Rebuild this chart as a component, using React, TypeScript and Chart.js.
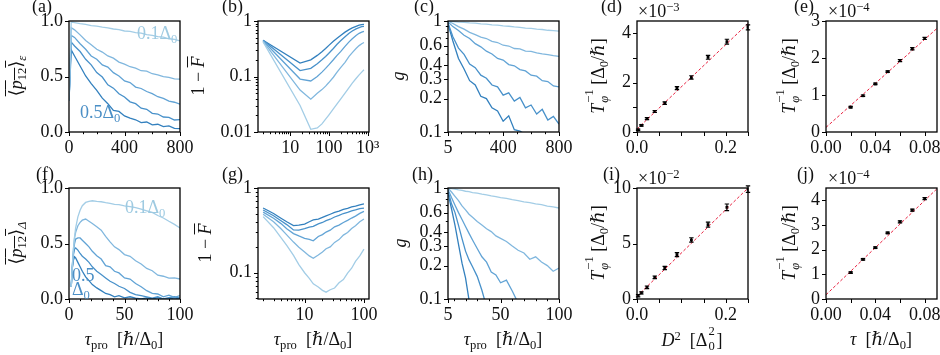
import React, { useEffect, useRef } from 'react';
import { Chart, registerables } from 'chart.js';
Chart.register(...registerables);

const FONT = '"Liberation Serif", "DejaVu Serif", "DejaVu Sans", serif';
const FS = 18;
Chart.defaults.font.family = FONT;
Chart.defaults.font.size = FS;
const BLUES = ['#a3cde6', '#80b7de', '#61a3d5', '#4891ca', '#3380be'];
const RED = '#e8203f';

// ---------- (a) ----------
const aX = [0, 16, 40, 80, 120, 160, 200, 240, 280, 320, 360, 400, 440, 480, 520, 560, 600, 640, 680, 720, 760, 800];
const aY1 = [0.28, 0.99, 0.985, 0.976, 0.969, 0.958, 0.953, 0.944, 0.939, 0.928, 0.922, 0.91, 0.906, 0.895, 0.89, 0.878, 0.871, 0.86, 0.854, 0.84, 0.834, 0.82];
const aY2 = [0.28, 0.94, 0.92, 0.875, 0.825, 0.785, 0.745, 0.72, 0.685, 0.665, 0.63, 0.612, 0.588, 0.575, 0.552, 0.548, 0.525, 0.515, 0.498, 0.492, 0.478, 0.476];
const aY3 = [0.28, 0.87, 0.852, 0.795, 0.745, 0.685, 0.655, 0.605, 0.585, 0.535, 0.505, 0.46, 0.445, 0.405, 0.392, 0.365, 0.345, 0.318, 0.302, 0.278, 0.268, 0.25];
const aY4 = [0.28, 0.81, 0.775, 0.725, 0.655, 0.605, 0.535, 0.495, 0.425, 0.395, 0.345, 0.315, 0.272, 0.255, 0.215, 0.205, 0.168, 0.162, 0.135, 0.132, 0.108, 0.112];
const aY5 = [0.28, 0.74, 0.685, 0.595, 0.505, 0.435, 0.375, 0.305, 0.255, 0.195, 0.185, 0.145, 0.125, 0.11, 0.085, 0.09, 0.065, 0.07, 0.048, 0.055, 0.032, 0.03];

// ---------- (b) ----------
const bX = [2, 18, 34, 50, 66, 82, 98, 130, 162, 200, 260, 330, 400, 500, 600, 700, 800];
const bY1 = [0.45, 0.175, 0.2, 0.24, 0.28, 0.32, 0.36, 0.43, 0.49, 0.55, 0.63, 0.7, 0.75, 0.8, 0.84, 0.86, 0.87];
const bY2 = [0.45, 0.128, 0.14, 0.17, 0.2, 0.23, 0.26, 0.32, 0.38, 0.44, 0.52, 0.6, 0.66, 0.72, 0.76, 0.79, 0.8];
const bY3 = [0.44, 0.09, 0.083, 0.1, 0.12, 0.14, 0.16, 0.2, 0.24, 0.28, 0.35, 0.42, 0.48, 0.55, 0.6, 0.63, 0.65];
const bY4 = [0.43, 0.057, 0.039, 0.05, 0.058, 0.067, 0.077, 0.097, 0.12, 0.145, 0.18, 0.23, 0.27, 0.32, 0.36, 0.39, 0.41];
const bY5 = [0.42, 0.03, 0.0112, 0.0118, 0.014, 0.017, 0.02, 0.026, 0.032, 0.039, 0.05, 0.063, 0.076, 0.092, 0.107, 0.12, 0.132];

// ---------- (c) ----------
const cX = [5, 40, 80, 120, 160, 200, 240, 280, 320, 360, 400, 440, 480, 520, 560, 600, 640, 680, 720, 760, 800];
const cY1 = [1, 0.99, 0.978, 0.972, 0.96, 0.955, 0.944, 0.936, 0.924, 0.917, 0.905, 0.897, 0.884, 0.877, 0.864, 0.857, 0.844, 0.838, 0.825, 0.82, 0.81];
const cY2 = [1, 0.95, 0.89, 0.845, 0.79, 0.755, 0.715, 0.695, 0.655, 0.64, 0.605, 0.595, 0.565, 0.562, 0.535, 0.532, 0.515, 0.505, 0.498, 0.488, 0.48];
const cY3 = [0.98, 0.89, 0.82, 0.745, 0.695, 0.625, 0.585, 0.535, 0.505, 0.46, 0.445, 0.405, 0.395, 0.365, 0.355, 0.325, 0.318, 0.29, 0.285, 0.26, 0.255];
const cY4 = [0.96, 0.72, 0.57, 0.5, 0.41, 0.38, 0.325, 0.305, 0.265, 0.255, 0.215, 0.225, 0.19, 0.205, 0.165, 0.175, 0.145, 0.16, 0.128, 0.138, 0.118];
const cY5 = [0.94, 0.66, 0.46, 0.37, 0.29, 0.265, 0.21, 0.2, 0.165, 0.155, 0.125, 0.14, 0.105, 0.102, 0.095, null, null, null, null, null, null];

// ---------- (d) ----------
const dX = [0.0025, 0.01, 0.0225, 0.04, 0.0625, 0.09, 0.1225, 0.16, 0.2025, 0.25];
const dY = [0.09, 0.27, 0.54, 0.83, 1.17, 1.78, 2.21, 3.03, 3.66, 4.24];
const dErr = [0.03, 0.03, 0.04, 0.04, 0.05, 0.06, 0.07, 0.08, 0.1, 0.1];
const dFitX = [0, 0.25];
const dFitY = [0.12, 4.4];

// ---------- (e) ----------
const eX = [0.02, 0.03, 0.04, 0.05, 0.06, 0.07, 0.08];
const eY = [0.67, 0.98, 1.3, 1.63, 1.93, 2.25, 2.53];
const eErr = [0.02, 0.02, 0.02, 0.02, 0.03, 0.03, 0.03];
const eFitX = [0, 0.09];
const eFitY = [0.125, 2.8];

// ---------- (f) ----------
const fX = [2, 3, 4, 5, 6, 8, 10, 12, 15, 18, 21, 25, 29, 33, 37, 41, 45, 50, 55, 60, 65, 70, 75, 80, 85, 90, 95, 100];
const fY1 = [0.11, 0.3, 0.45, 0.56, 0.64, 0.74, 0.8, 0.84, 0.87, 0.88, 0.885, 0.88, 0.876, 0.868, 0.862, 0.853, 0.85, 0.838, 0.832, 0.824, 0.81, 0.795, 0.78, 0.752, 0.73, 0.7, 0.672, 0.64];
const fY2 = [0.11, 0.3, 0.45, 0.55, 0.6, 0.66, 0.69, 0.71, 0.72, 0.7, 0.68, 0.65, 0.62, 0.565, 0.515, 0.47, 0.445, 0.4, 0.385, 0.345, 0.315, 0.275, 0.255, 0.215, 0.205, 0.188, 0.19, 0.18];
const fY3 = [0.11, 0.3, 0.42, 0.5, 0.54, 0.55, 0.55, 0.53, 0.5, 0.47, 0.43, 0.39, 0.36, 0.3, 0.29, 0.25, 0.235, 0.19, 0.18, 0.14, 0.11, 0.075, 0.05, 0.045, 0.02, 0.035, 0.015, 0.03];
const fY4 = [0.11, 0.28, 0.4, 0.45, 0.46, 0.44, 0.41, 0.385, 0.36, 0.33, 0.29, 0.25, 0.22, 0.19, 0.16, 0.14, 0.115, 0.095, 0.06, 0.04, 0.03, 0.02, 0.008, 0.02, 0.0, 0.012, 0.02, 0.008];
const fY5 = [0.11, 0.28, 0.35, 0.38, 0.37, 0.33, 0.29, 0.25, 0.2, 0.165, 0.13, 0.1, 0.075, 0.05, 0.04, 0.02, 0.03, 0.01, 0.02, 0.008, 0.0, 0.01, 0.0, 0.012, 0.0, 0.0, 0.01, 0.0];

// ---------- (g) ----------
const gX = [2, 3, 4, 5, 6.5, 8, 10, 12, 14, 17, 20, 23, 27, 32, 38, 45, 53, 62, 72, 85, 100];
const gY1 = [0.58, 0.5, 0.44, 0.4, 0.36, 0.365, 0.375, 0.4, 0.42, 0.43, 0.45, 0.468, 0.49, 0.515, 0.535, 0.56, 0.575, 0.6, 0.612, 0.632, 0.65];
const gY2 = [0.55, 0.47, 0.41, 0.37, 0.32, 0.318, 0.332, 0.345, 0.352, 0.378, 0.392, 0.412, 0.428, 0.455, 0.475, 0.5, 0.515, 0.538, 0.552, 0.572, 0.58];
const gY3 = [0.52, 0.44, 0.38, 0.33, 0.29, 0.272, 0.255, 0.248, 0.238, 0.268, 0.282, 0.302, 0.318, 0.348, 0.365, 0.392, 0.415, 0.442, 0.466, 0.502, 0.53];
const gY4 = [0.49, 0.4, 0.33, 0.28, 0.23, 0.2, 0.176, 0.158, 0.148, 0.162, 0.176, 0.192, 0.202, 0.228, 0.246, 0.278, 0.298, 0.332, 0.358, 0.4, 0.43];
const gY5 = [0.46, 0.34, 0.26, 0.21, 0.16, 0.125, 0.1, 0.086, 0.074, 0.068, 0.062, 0.059, 0.063, 0.066, 0.076, 0.083, 0.099, 0.113, 0.136, 0.158, 0.19];

// ---------- (h) ----------
const hX = [5, 8, 11, 14, 17, 20, 23, 26, 30, 34, 38, 42, 46, 50, 55, 60, 65, 70, 75, 80, 85, 90, 95, 100];
const hY1 = [1, 0.985, 0.976, 0.96, 0.951, 0.935, 0.926, 0.91, 0.899, 0.879, 0.868, 0.849, 0.838, 0.82, 0.806, 0.784, 0.771, 0.75, 0.738, 0.718, 0.707, 0.686, 0.676, 0.66];
const hY2 = [1, 0.92, 0.84, 0.77, 0.69, 0.635, 0.58, 0.545, 0.5, 0.465, 0.43, 0.405, 0.37, 0.352, 0.33, 0.3, 0.275, 0.26, 0.228, 0.24, 0.215, 0.2, 0.178, 0.19];
const hY3 = [0.97, 0.82, 0.7, 0.6, 0.52, 0.45, 0.39, 0.34, 0.285, 0.24, 0.215, 0.175, 0.165, 0.14, 0.148, 0.118, 0.092, null, null, null, null, null, null, null];
const hY4 = [0.95, 0.72, 0.6, 0.46, 0.35, 0.27, 0.225, 0.195, 0.16, 0.12, 0.085, null, null, null, null, null, null, null, null, null, null, null, null, null];
const hY5 = [0.9, 0.65, 0.46, 0.31, 0.21, 0.155, 0.098, 0.06, null, null, null, null, null, null, null, null, null, null, null, null, null, null, null, null];

// ---------- (i) ----------
const iX = [0.0025, 0.01, 0.0225, 0.04, 0.0625, 0.09, 0.1225, 0.16, 0.2025, 0.25];
const iY = [0.3, 0.55, 1.05, 1.95, 2.79, 4.0, 5.32, 6.7, 8.26, 9.9];
const iErr = [0.1, 0.1, 0.12, 0.12, 0.15, 0.18, 0.2, 0.22, 0.3, 0.3];
const iFitX = [0, 0.25];
const iFitY = [0.24, 10.0];

// ---------- (j) ----------
const jX = [0.02, 0.03, 0.04, 0.05, 0.06, 0.07, 0.08];
const jY = [1.07, 1.61, 2.08, 2.68, 3.13, 3.6, 4.07];
const jErr = [0.03, 0.03, 0.03, 0.03, 0.04, 0.04, 0.04];
const jFitX = [0, 0.09];
const jFitY = [0.17, 4.47];

// ---------- tick sets ----------
const logMinor = (decades: number[]) => decades.flatMap(d => [2, 3, 4, 5, 6, 7, 8, 9].map(k => k * d));

type Axis = { type: 'linear' | 'logarithmic'; min: number; max: number; major: number[]; labels: string[]; minor: number[] };
type Line = { x: number[]; y: (number | null)[]; color: string };
type ErrSet = { x: number[]; y: number[]; err: number[]; fitX: number[]; fitY: number[] };
type Panel = { id: string; left: number; top: number; x: Axis; y: Axis; lines?: Line[]; errs?: ErrSet };

const W = 111, H = 111;
const L = 75, T = 14, R = 26, B = 34;
const ROW1 = 21, ROW2 = 188;
const COLS = [69, 258, 448, 637, 826];

const yLin01: Axis = { type: 'linear', min: 0, max: 1, major: [0, 0.5, 1], labels: ['0.0', '0.5', '1.0'], minor: [] };
const yLogG: Axis = { type: 'logarithmic', min: 0.1, max: 1, major: [0.1, 0.2, 0.3, 0.4, 0.6, 1], labels: ['0.1', '0.2', '0.3', '0.4', '0.6', '1'], minor: [0.5, 0.7, 0.8, 0.9] };

const panels: Panel[] = [
  {
    id: 'a', left: COLS[0], top: ROW1,
    x: { type: 'linear', min: 0, max: 800, major: [0, 400, 800], labels: ['0', '400', '800'], minor: [100, 200, 300, 500, 600, 700] },
    y: yLin01,
    lines: [aY1, aY2, aY3, aY4, aY5].map((y, i) => ({ x: aX, y, color: BLUES[i] })),
  },
  {
    id: 'b', left: COLS[1], top: ROW1,
    x: { type: 'logarithmic', min: 1.48, max: 1079, major: [10, 100, 1000], labels: ['10', '100', '10³'], minor: logMinor([1, 10, 100]) },
    y: { type: 'logarithmic', min: 0.01, max: 1, major: [0.01, 0.1, 1], labels: ['0.01', '0.1', '1'], minor: logMinor([0.01, 0.1]) },
    lines: [bY5, bY4, bY3, bY2, bY1].map((y, i) => ({ x: bX, y, color: BLUES[i] })),
  },
  {
    id: 'c', left: COLS[2], top: ROW1,
    x: { type: 'linear', min: 5, max: 800, major: [5, 400, 800], labels: ['5', '400', '800'], minor: [100, 200, 300, 500, 600, 700] },
    y: yLogG,
    lines: [cY1, cY2, cY3, cY4, cY5].map((y, i) => ({ x: cX, y, color: BLUES[i] })),
  },
  {
    id: 'd', left: COLS[3], top: ROW1,
    x: { type: 'linear', min: 0, max: 0.25, major: [0, 0.05, 0.1, 0.15, 0.2, 0.25], labels: ['0.0', '', '', '', '0.2', ''], minor: [] },
    y: { type: 'linear', min: 0, max: 4.5, major: [0, 1, 2, 3, 4], labels: ['0', '', '2', '', '4'], minor: [] },
    errs: { x: dX, y: dY, err: dErr, fitX: dFitX, fitY: dFitY },
  },
  {
    id: 'e', left: COLS[4], top: ROW1,
    x: { type: 'linear', min: 0, max: 0.09, major: [0, 0.02, 0.04, 0.06, 0.08], labels: ['0.00', '', '0.04', '', '0.08'], minor: [] },
    y: { type: 'linear', min: 0, max: 3, major: [0, 1, 2, 3], labels: ['0', '1', '2', '3'], minor: [] },
    errs: { x: eX, y: eY, err: eErr, fitX: eFitX, fitY: eFitY },
  },
  {
    id: 'f', left: COLS[0], top: ROW2,
    x: { type: 'linear', min: 0, max: 100, major: [0, 50, 100], labels: ['0', '50', '100'], minor: [10, 20, 30, 40, 60, 70, 80, 90] },
    y: yLin01,
    lines: [fY1, fY2, fY3, fY4, fY5].map((y, i) => ({ x: fX, y, color: BLUES[i] })),
  },
  {
    id: 'g', left: COLS[1], top: ROW2,
    x: { type: 'logarithmic', min: 1.64, max: 121.6, major: [10, 100], labels: ['10', '100'], minor: logMinor([1, 10]) },
    y: { type: 'logarithmic', min: 0.049, max: 1, major: [0.1, 1], labels: ['0.1', '1'], minor: [0.05, 0.06, 0.07, 0.08, 0.09, 0.2, 0.3, 0.4, 0.5, 0.6, 0.7, 0.8, 0.9] },
    lines: [gY5, gY4, gY3, gY2, gY1].map((y, i) => ({ x: gX, y, color: BLUES[i] })),
  },
  {
    id: 'h', left: COLS[2], top: ROW2,
    x: { type: 'linear', min: 5, max: 100, major: [5, 50, 100], labels: ['5', '50', '100'], minor: [10, 20, 30, 40, 60, 70, 80, 90] },
    y: yLogG,
    lines: [hY1, hY2, hY3, hY4, hY5].map((y, i) => ({ x: hX, y, color: BLUES[i] })),
  },
  {
    id: 'i', left: COLS[3], top: ROW2,
    x: { type: 'linear', min: 0, max: 0.25, major: [0, 0.05, 0.1, 0.15, 0.2, 0.25], labels: ['0.0', '', '', '', '0.2', ''], minor: [] },
    y: { type: 'linear', min: 0, max: 10, major: [0, 5, 10], labels: ['0', '5', '10'], minor: [] },
    errs: { x: iX, y: iY, err: iErr, fitX: iFitX, fitY: iFitY },
  },
  {
    id: 'j', left: COLS[4], top: ROW2,
    x: { type: 'linear', min: 0, max: 0.09, major: [0, 0.02, 0.04, 0.06, 0.08], labels: ['0.00', '', '0.04', '', '0.08'], minor: [] },
    y: { type: 'linear', min: 0, max: 4.5, major: [0, 1, 2, 3, 4], labels: ['0', '1', '2', '3', '4'], minor: [] },
    errs: { x: jX, y: jY, err: jErr, fitX: jFitX, fitY: jFitY },
  },
];

const framePlugin = {
  id: 'frame',
  afterDatasetsDraw(chart: any) {
    const cfg = chart.options.plugins.frame;
    if (!cfg) return;
    const { ctx, chartArea: a } = chart;
    const xs = chart.scales.x, ys = chart.scales.y;
    ctx.save();
    chart.data.datasets.forEach((ds: any) => {
      if (!ds.errors) return;
      ctx.strokeStyle = '#000';
      ctx.lineWidth = 1.2;
      ds.data.forEach((pt: any, i: number) => {
        const e = ds.errors[i];
        const px = xs.getPixelForValue(pt.x);
        const y1 = ys.getPixelForValue(pt.y - e);
        const y2 = ys.getPixelForValue(pt.y + e);
        ctx.beginPath();
        ctx.moveTo(px, y1); ctx.lineTo(px, y2);
        ctx.moveTo(px - 2.2, y1); ctx.lineTo(px + 2.2, y1);
        ctx.moveTo(px - 2.2, y2); ctx.lineTo(px + 2.2, y2);
        ctx.stroke();
      });
    });
    ctx.strokeStyle = '#000';
    ctx.lineWidth = 1.3;
    ctx.strokeRect(a.left, a.top, a.right - a.left, a.bottom - a.top);
    ctx.lineWidth = 1;
    const drawX = (vals: number[], len: number) => {
      vals.forEach(v => {
        if (v < xs.min - 1e-12 || v > xs.max + 1e-12) return;
        const px = Math.round(xs.getPixelForValue(v)) + 0.5;
        ctx.beginPath(); ctx.moveTo(px, a.bottom); ctx.lineTo(px, a.bottom + len); ctx.stroke();
      });
    };
    const drawY = (vals: number[], len: number) => {
      vals.forEach(v => {
        if (v < ys.min - 1e-12 || v > ys.max + 1e-12) return;
        const py = Math.round(ys.getPixelForValue(v)) + 0.5;
        ctx.beginPath(); ctx.moveTo(a.left, py); ctx.lineTo(a.left - len, py); ctx.stroke();
      });
    };
    drawX(cfg.x.major, 4); drawX(cfg.x.minor, 2.2);
    drawY(cfg.y.major, 4); drawY(cfg.y.minor, 2.2);
    ctx.restore();
  },
};

function PanelChart({ p }: { p: Panel }) {
  const ref = useRef<HTMLCanvasElement>(null);
  useEffect(() => {
    if (!ref.current) return;
    const datasets: any[] = [];
    (p.lines || []).forEach(l => {
      datasets.push({
        type: 'line',
        data: l.x.map((x, i) => ({ x, y: l.y[i] })),
        borderColor: l.color, borderWidth: 1.3, pointRadius: 0, fill: false, tension: 0, spanGaps: false,
      });
    });
    if (p.errs) {
      const e = p.errs;
      datasets.push({
        type: 'line',
        data: e.fitX.map((x, i) => ({ x, y: e.fitY[i] })),
        borderColor: RED, borderWidth: 1, borderDash: [3, 2], pointRadius: 0, fill: false,
      });
      datasets.push({
        type: 'scatter',
        data: e.x.map((x, i) => ({ x, y: e.y[i] })),
        errors: e.err,
        pointStyle: 'rect', pointRadius: 2, backgroundColor: '#000', borderColor: '#000', borderWidth: 0,
      });
    }
    const mkScale = (a: Axis, isX: boolean) => ({
      type: a.type, min: a.min, max: a.max, position: isX ? 'bottom' : 'left', bounds: 'data',
      grid: { display: false, drawTicks: false },
      border: { display: false },
      ticks: {
        autoSkip: false, maxRotation: 0, minRotation: 0, padding: isX ? 5 : 6, color: '#111',
        font: { family: FONT, size: FS },
        callback: (_v: any, i: number) => a.labels[i] ?? '',
      },
      afterBuildTicks: (s: any) => { s.ticks = a.major.map(v => ({ value: v })); },
      afterFit: (s: any) => {
        if (isX) s.height = B; else s.width = L;
        s.paddingLeft = 0; s.paddingRight = 0; s.paddingTop = 0; s.paddingBottom = 0;
      },
    });
    const chart = new Chart(ref.current, {
      type: 'line',
      data: { datasets },
      options: {
        responsive: false, animation: false, devicePixelRatio: 1,
        layout: { padding: { left: 0, top: T, right: R, bottom: 0 } },
        scales: { x: mkScale(p.x, true), y: mkScale(p.y, false) } as any,
        plugins: { legend: { display: false }, tooltip: { enabled: false }, frame: { x: p.x, y: p.y } } as any,
        events: [],
      },
      plugins: [framePlugin],
    } as any);
    return () => chart.destroy();
  }, []);
  return (
    <canvas ref={ref} width={L + W + R} height={T + H + B}
      style={{ position: 'absolute', left: p.left - L, top: p.top - T, width: L + W + R, height: T + H + B }} />
  );
}

const Sb = ({ c }: { c: React.ReactNode }) => <span style={{ fontSize: '0.7em', position: 'relative', top: '0.3em' }}>{c}</span>;
const Sp = ({ c }: { c: React.ReactNode }) => <span style={{ fontSize: '0.7em', position: 'relative', top: '-0.5em' }}>{c}</span>;
const SubSup = ({ sb, sp, w }: { sb: React.ReactNode; sp: React.ReactNode; w?: string }) => (
  <span style={{ display: 'inline-block', position: 'relative', width: w || '1.05em', height: '1em' }}>
    <span style={{ position: 'absolute', left: 1, top: '-0.2em', fontSize: '0.7em', lineHeight: 1 }}>{sp}</span>
    <span style={{ position: 'absolute', left: 1, top: '0.95em', fontSize: '0.7em', lineHeight: 1 }}>{sb}</span>
  </span>
);

const YT = ({ cx, cy, children }: { cx: number; cy: number; children: React.ReactNode }) => (
  <div style={{ position: 'absolute', left: cx, top: cy, transform: 'translate(-50%,-50%) rotate(-90deg)', whiteSpace: 'nowrap', lineHeight: '20px' }}>{children}</div>
);
const XT = ({ cx, cy, children }: { cx: number; cy: number; children: React.ReactNode }) => (
  <div style={{ position: 'absolute', left: cx, top: cy, transform: 'translate(-50%,-50%)', whiteSpace: 'nowrap', lineHeight: '20px' }}>{children}</div>
);
const TX = ({ x, cy, color, children }: { x: number; cy: number; color?: string; children: React.ReactNode }) => (
  <div style={{ position: 'absolute', left: x, top: cy - 10, whiteSpace: 'nowrap', lineHeight: '20px', color: color || '#111' }}>{children}</div>
);

const P12 = ({ sub }: { sub: string }) => (
  <span><span style={{ textDecoration: 'overline' }}>⟨<i>p</i><Sb c="12" />⟩</span><Sb c={<i>{sub}</i>} /></span>
);
const OneMinusF = () => <span>1 − <i style={{ textDecoration: 'overline' }}>F</i></span>;
const TPhi = () => <span><i>T</i><SubSup sb={<i>φ</i>} sp="−1" />[Δ<Sb c="0" />/ℏ]</span>;
const TauPro = () => <span><i>τ</i><Sb c="pro" />&nbsp; [ℏ/Δ<Sb c="0" />]</span>;

export default function App() {
  return (
    <div style={{ position: 'absolute', left: 0, top: 0, width: 940, height: 355, background: '#fff', overflow: 'hidden', fontFamily: FONT, fontSize: FS, color: '#111' }}>
      {panels.map(p => <PanelChart key={p.id} p={p} />)}

      <TX x={32} cy={6}>(a)</TX>
      <TX x={222} cy={6}>(b)</TX>
      <TX x={414} cy={6}>(c)</TX>
      <TX x={601} cy={6}>(d)</TX>
      <TX x={794} cy={6}>(e)</TX>
      <TX x={36} cy={174}>(f)</TX>
      <TX x={222} cy={174}>(g)</TX>
      <TX x={412} cy={174}>(h)</TX>
      <TX x={603} cy={174}>(i)</TX>
      <TX x={797} cy={174}>(j)</TX>

      <TX x={638} cy={11}>×10<Sp c="−3" /></TX>
      <TX x={828} cy={11}>×10<Sp c="−4" /></TX>
      <TX x={638} cy={178}>×10<Sp c="−2" /></TX>
      <TX x={828} cy={178}>×10<Sp c="−4" /></TX>

      <YT cx={17} cy={76}><P12 sub="ε" /></YT>
      <YT cx={198} cy={76}><OneMinusF /></YT>
      <YT cx={398} cy={76}><i>g</i></YT>
      <YT cx={598} cy={76}><TPhi /></YT>
      <YT cx={789} cy={76}><TPhi /></YT>
      <YT cx={17} cy={243}><P12 sub="Δ" /></YT>
      <YT cx={205} cy={243}><OneMinusF /></YT>
      <YT cx={400} cy={243}><i>g</i></YT>
      <YT cx={598} cy={243}><TPhi /></YT>
      <YT cx={789} cy={243}><TPhi /></YT>

      <XT cx={124} cy={340}><TauPro /></XT>
      <XT cx={313} cy={340}><TauPro /></XT>
      <XT cx={503} cy={340}><TauPro /></XT>
      <XT cx={692} cy={340}><i>D</i><Sp c="2" />&nbsp; [Δ<SubSup sb="0" sp="2" w="0.5em" />]</XT>
      <XT cx={881} cy={340}><i>τ</i>&nbsp; [ℏ/Δ<Sb c="0" />]</XT>

      <TX x={137} cy={33} color="#9ecae1">0.1Δ<Sb c="0" /></TX>
      <TX x={80} cy={112} color="#4b8fc6">0.5Δ<Sb c="0" /></TX>
      <TX x={125} cy={207} color="#9ecae1">0.1Δ<Sb c="0" /></TX>
      <TX x={72} cy={275} color="#4b8fc6">0.5</TX>
      <TX x={72} cy={289} color="#4b8fc6">Δ<Sb c="0" /></TX>
    </div>
  );
}
